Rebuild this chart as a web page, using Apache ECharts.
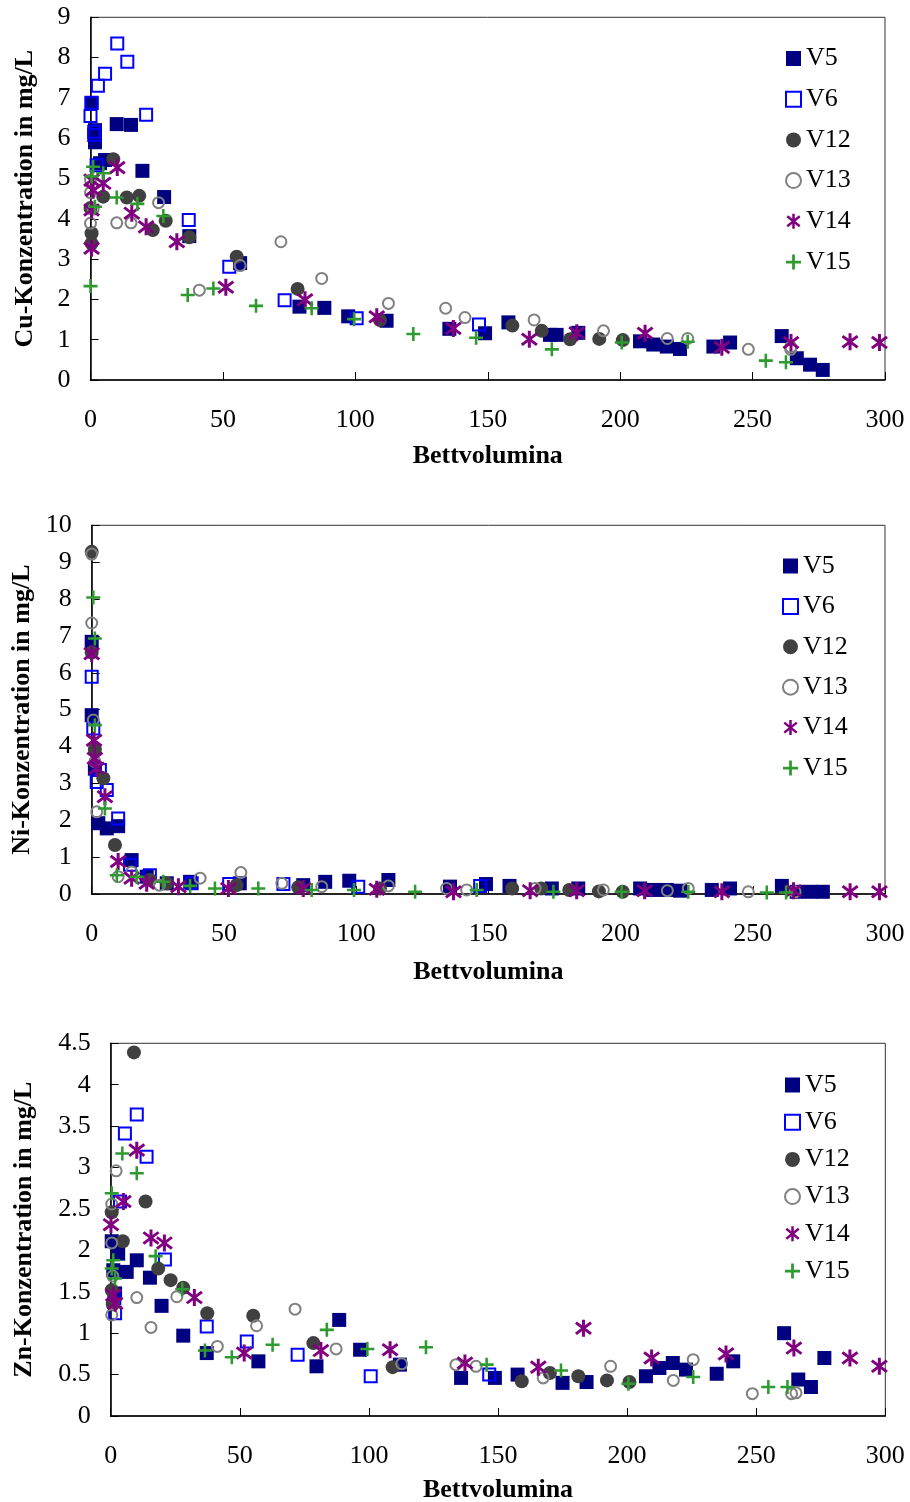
<!DOCTYPE html>
<html><head><meta charset="utf-8">
<script src="https://cdn.jsdelivr.net/npm/echarts@6/dist/echarts.min.js"></script>
<style>html,body{margin:0;padding:0;background:#fff}#c{width:910px;height:1502px}</style>
</head><body><div id="c"></div>
<script>
// ---- Data ----
const seriesNames = ['V5', 'V6', 'V12', 'V13', 'V14', 'V15'];
const xTicks = [0, 50, 100, 150, 200, 250, 300];
const cuTicks = [0, 1, 2, 3, 4, 5, 6, 7, 8, 9];
const niTicks = [0, 1, 2, 3, 4, 5, 6, 7, 8, 9, 10];
const znTicks = [0, 0.5, 1, 1.5, 2, 2.5, 3, 3.5, 4, 4.5];
const xTitle = 'Bettvolumina';
const yTitles = ['Cu-Konzentration in mg/L', 'Ni-Konzentration in mg/L', 'Zn-Konzentration in mg/L'];

// Cu
const cuV5 = [[0.4,6.87],[1.7,6.2],[1.7,5.9],[3.6,5.38],[5.5,5.46],[9.9,6.35],[15.3,6.33],[19.6,5.19],[27.8,4.54],[37.3,3.57],[56.5,2.9],[78.9,1.82],[88.3,1.79],[97.3,1.58],[111.8,1.47],[135.5,1.27],[149,1.16],[157.8,1.43],[173.5,1.12],[176,1.12],[184.2,1.17],[207.5,0.96],[212.5,0.88],[217.6,0.83],[222.6,0.77],[235.2,0.83],[241.5,0.93],[261,1.09],[266.7,0.54],[271.7,0.38],[276.5,0.25]];
const cuV6 = [[0.4,6.88],[0,6.55],[1.4,6.16],[1.4,6.08],[2.8,7.3],[5.5,7.6],[10.1,8.35],[13.9,7.9],[21,6.58],[2.3,5.33],[37.1,3.97],[52.4,2.81],[73.3,1.98],[100.5,1.53],[146.7,1.38]];
const cuV12 = [[0.4,3.39],[0.4,3.64],[0,4.27],[4.8,4.55],[8.6,5.48],[13.7,4.53],[18.4,4.57],[23.5,3.72],[28.4,3.95],[37.3,3.54],[55.2,3.06],[78.2,2.26],[109.3,1.49],[159.3,1.35],[170.4,1.22],[181.1,1.01],[192.1,1.02],[201,0.99]];
const cuV13 = [[0,3.89],[0,4.65],[0,4.96],[1,4.24],[9.9,3.9],[15.3,3.9],[25.7,4.4],[41.1,2.23],[56.5,2.84],[71.9,3.43],[87.3,2.52],[112.5,1.9],[134.1,1.78],[141.4,1.55],[167.5,1.49],[193.7,1.22],[217.8,1.03],[225.5,1.03],[248.4,0.76],[264.4,0.76],[264.4,0.82]];
const cuV14 = [[0.4,3.27],[0.4,4.22],[1,4.71],[0.4,4.96],[4.8,4.88],[10.1,5.27],[15.6,4.14],[21,3.8],[32.6,3.43],[51.1,2.3],[81,1.99],[108.1,1.57],[137,1.28],[165.7,1.01],[183.6,1.17],[209.4,1.16],[238.4,0.81],[264.5,0.93],[286.8,0.95],[297.9,0.93]];
const cuV15 = [[0,2.33],[1,5.29],[0.4,5.05],[1.7,4.3],[4.8,5.13],[9.9,4.53],[17.7,4.37],[27.5,4.07],[36.7,2.11],[46.4,2.27],[62.5,1.84],[83.5,1.78],[99.5,1.51],[121.9,1.14],[145.6,1.05],[174.2,0.76],[200.6,0.93],[225.5,0.95],[255,0.48],[262.6,0.44]];

// Ni
const niV5 = [[0,6.84],[0,4.85],[1.2,3.4],[2.5,1.92],[5.7,1.78],[10,1.84],[15.1,0.92],[20.8,0.47],[28.4,0.29],[37.2,0.33],[56,0.29],[80,0.24],[88.3,0.33],[97.4,0.36],[112.2,0.38],[135.5,0.2],[149.1,0.27],[158,0.22],[174,0.15],[184,0.15],[207.4,0.15],[212.3,0.11],[217.5,0.11],[222.5,0.09],[234.5,0.11],[241.4,0.15],[261,0.22],[266.6,0.06],[271.7,0.06],[276.5,0.06]];
const niV6 = [[0,5.89],[0.6,4.49],[3.1,3.36],[1.9,3.04],[5.7,2.82],[10,2.05],[14.5,0.79],[22,0.51],[37.8,0.29],[52,0.27],[72.5,0.27],[100.8,0.2],[146.9,0.22]];
const niV12 = [[0,9.28],[0,6.55],[1.2,3.92],[4.4,3.14],[8.8,1.33],[22,0.38],[28.4,0.29],[54.8,0.24],[78.1,0.18],[109,0.15],[159,0.15],[170,0.15],[180.6,0.11],[191.8,0.07],[200.8,0.06]];
const niV13 = [[0,9.22],[0,7.35],[0.6,4.72],[1.2,3.59],[1.9,2.23],[10,0.47],[15.1,0.6],[25.6,0.24],[41,0.43],[56.4,0.58],[71.9,0.29],[87,0.2],[112.2,0.22],[134.2,0.15],[141.8,0.11],[167.7,0.15],[193.5,0.11],[217.7,0.09],[225.6,0.15],[248.3,0.06],[266,0.06]];
const niV14 = [[0,6.52],[0.9,4.17],[1.2,3.68],[1.9,3.41],[5,2.64],[10,0.88],[15.1,0.43],[20.8,0.29],[32.8,0.2],[51.7,0.15],[80,0.15],[107.8,0.13],[136.8,0.06],[165.8,0.09],[183.4,0.09],[209.1,0.09],[238.3,0.06],[265.4,0.09],[286.8,0.06],[297.9,0.06]];
const niV15 = [[0.6,8.04],[1.2,6.93],[1.2,4.58],[5,2.32],[9.5,0.51],[17,0.47],[27.1,0.33],[37.2,0.22],[46.6,0.15],[63,0.15],[83.2,0.11],[99.2,0.11],[122.3,0.06],[145.6,0.11],[174.6,0.06],[200.4,0.06],[225.6,0.06],[255.3,0.04],[262.6,0.04]];

// Zn
const znV5 = [[0.4,2.11],[2.9,1.96],[1,1.76],[6.2,1.74],[10.1,1.88],[15.2,1.67],[19.7,1.33],[28.1,0.97],[37.2,0.76],[1.7,1.48],[57.2,0.66],[79.7,0.6],[88.5,1.16],[96.6,0.8],[112,0.62],[135.7,0.46],[148.8,0.46],[157.6,0.5],[175,0.4],[184.3,0.41],[207.3,0.48],[212.5,0.58],[217.7,0.64],[222.8,0.56],[234.7,0.51],[241.1,0.66],[260.8,1.0],[266.3,0.44],[271.2,0.35],[276.4,0.7]];
const znV6 = [[10.1,3.64],[5.5,3.41],[13.9,3.13],[3.6,2.59],[21,1.89],[1.4,1.42],[1.7,1.24],[37.2,1.08],[52.7,0.9],[72.4,0.74],[100.7,0.48],[146.6,0.5]];
const znV12 = [[9,4.39],[13.5,2.59],[0.4,2.46],[4.7,2.11],[18.4,1.78],[23.2,1.64],[28.1,1.55],[37.4,1.24],[55.2,1.21],[0.4,1.52],[0.8,1.35],[78.5,0.88],[109.2,0.59],[159.2,0.42],[170.1,0.52],[181.1,0.48],[192.2,0.43],[200.9,0.41]];
const znV13 = [[2.1,2.96],[0.4,2.56],[0.4,2.09],[0.8,1.69],[0.4,1.22],[10.1,1.43],[15.6,1.07],[25.6,1.44],[41.3,0.84],[56.5,1.09],[71.4,1.29],[87.3,0.81],[112.7,0.63],[133.7,0.62],[141.5,0.6],[167.5,0.46],[193.6,0.6],[217.9,0.43],[225.6,0.68],[248.5,0.27],[263.7,0.27],[265.4,0.28]];
const znV14 = [[10.1,3.21],[4.9,2.59],[0.1,2.31],[15.6,2.15],[20.8,2.09],[1,1.46],[1.7,1.36],[32.4,1.43],[51.7,0.76],[81.4,0.79],[108.2,0.8],[137.2,0.64],[165.6,0.59],[183.1,1.06],[209.5,0.7],[238.3,0.75],[264.6,0.82],[286.3,0.7],[297.7,0.6]];
const znV15 = [[4.5,3.17],[10.1,2.93],[0.4,2.69],[1,1.88],[0.4,1.78],[1.7,1.66],[17.4,1.93],[27.7,1.53],[36.5,0.79],[46.9,0.71],[62.7,0.86],[83.7,1.04],[99.4,0.81],[122.1,0.83],[145.6,0.62],[174.4,0.55],[200.5,0.39],[225.6,0.47],[254.7,0.35],[262.1,0.35]];

// ---- Presentation ----
const FONT = '"Liberation Serif","Times New Roman",serif';
const ASTER = 'path://M-1,-6L1,-6L1,6L-1,6Z M-4.375,-4.78L5.625,3.22L4.375,4.78L-5.625,-3.22Z M-5.625,3.22L4.375,-4.78L5.625,-3.22L-4.375,4.78Z';
const PLUS = 'path://M-1.1,-6L1.1,-6L1.1,-1.1L6,-1.1L6,1.1L1.1,1.1L1.1,6L-1.1,6L-1.1,1.1L-6,1.1L-6,-1.1L-1.1,-1.1Z';
const styles = [
  {symbol: 'rect', symbolSize: 14, itemStyle: {color: '#000080', borderWidth: 0, opacity: 1}},
  {symbol: 'rect', symbolSize: 12, itemStyle: {color: 'rgba(255,255,255,0)', borderColor: '#0000ff', borderWidth: 2, opacity: 1}},
  {symbol: 'circle', symbolSize: 14, itemStyle: {color: '#404040', borderWidth: 0, opacity: 1}},
  {symbol: 'circle', symbolSize: 11, itemStyle: {color: 'rgba(255,255,255,0)', borderColor: '#808080', borderWidth: 2, opacity: 1}},
  {symbol: ASTER, symbolSize: 17, itemStyle: {color: '#800080', borderWidth: 0, opacity: 1}},
  {symbol: PLUS, symbolSize: 14, itemStyle: {color: '#2f9a2f', borderWidth: 0, opacity: 1}}
];
const chartData = [
  [cuV5, cuV6, cuV12, cuV13, cuV14, cuV15],
  [niV5, niV6, niV12, niV13, niV14, niV15],
  [znV5, znV6, znV12, znV13, znV14, znV15]
];
const yTickSets = [cuTicks, niTicks, znTicks];
const grids = [
  {left: 90.5, top: 17.3, width: 794.5, height: 362.7},
  {left: 91.7, top: 525.3, width: 793.3, height: 368.7},
  {left: 110.7, top: 1043.3, width: 774.6, height: 372.7}
];
const xNameGap = [63, 65, 61];
const yNameGap = [52, 54, 73];
const legendPos = [
  {left: 780, top: 40.5, itemGap: 14.7},
  {left: 777, top: 548, itemGap: 14.4},
  {left: 779, top: 1067, itemGap: 11.2}
];

const option = {
  backgroundColor: '#fff',
  animation: false,
  grid: grids.map(g => Object.assign({show: true, borderColor: '#333', borderWidth: 1, containLabel: false, outerBoundsMode: 'none'}, g)),
  xAxis: grids.map((g, i) => ({
    gridIndex: i, type: 'value',
    min: xTicks[0], max: xTicks[xTicks.length - 1], interval: xTicks[1] - xTicks[0],
    name: xTitle, nameLocation: 'middle', nameGap: xNameGap[i],
    nameTextStyle: {fontFamily: FONT, fontSize: 26, fontWeight: 'bold', color: '#000'},
    axisLine: {show: true, onZero: false, lineStyle: {color: '#000', width: 1.5}},
    axisTick: {show: true, inside: true, length: 8, lineStyle: {color: '#000', width: 1}},
    axisLabel: {fontFamily: FONT, fontSize: 26, color: '#000', margin: 27, showMaxLabel: true, showMinLabel: true},
    splitLine: {show: false}
  })),
  yAxis: grids.map((g, i) => {
    const t = yTickSets[i];
    return {
      gridIndex: i, type: 'value',
      min: t[0], max: t[t.length - 1], interval: t[1] - t[0],
      name: yTitles[i], nameLocation: 'middle', nameRotate: 90, nameGap: yNameGap[i],
      nameTextStyle: {fontFamily: FONT, fontSize: 26, fontWeight: 'bold', color: '#000'},
      axisLine: {show: true, onZero: false, lineStyle: {color: '#000', width: 1.5}},
      axisTick: {show: true, inside: true, length: 8, lineStyle: {color: '#000', width: 1}},
      axisLabel: {fontFamily: FONT, fontSize: 26, color: '#000', margin: 20, showMaxLabel: true, showMinLabel: true},
      splitLine: {show: false}
    };
  }),
  legend: legendPos.map(p => ({
    data: seriesNames, orient: 'vertical', left: p.left, top: p.top, itemGap: p.itemGap,
    itemWidth: 15, itemHeight: 15, selectedMode: false,
    textStyle: {fontFamily: FONT, fontSize: 26, lineHeight: 26, color: '#000'}
  })),
  series: []
};
chartData.forEach((sets, gi) => {
  sets.forEach((d, si) => {
    option.series.push(Object.assign({
      type: 'scatter', name: seriesNames[si],
      xAxisIndex: gi, yAxisIndex: gi, data: d, z: 2 + si
    }, JSON.parse(JSON.stringify(styles[si]))));
  });
});
const chart = echarts.init(document.getElementById('c'), null, {renderer: 'canvas'});
chart.setOption(option);
</script>
</body></html>
